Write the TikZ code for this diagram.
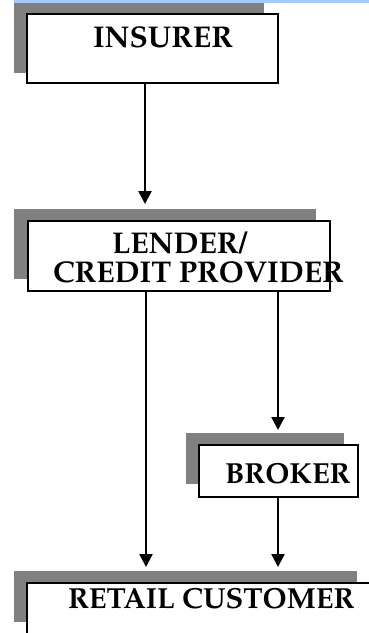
\documentclass[tikz,border=0pt]{standalone}
\usepackage[T1]{fontenc}
\renewcommand{\rmdefault}{ppl}
\usetikzlibrary{arrows.meta}
\definecolor{shade}{HTML}{808080}
\definecolor{rule}{HTML}{99CCFF}
\tikzset{
  shadowbox/.style={rectangle, fill=shade, draw=none, inner sep=0pt, outer sep=0pt, anchor=north west},
  whitebox/.style={rectangle, fill=white, draw=black, line width=2.2pt, inner sep=0pt, outer sep=0pt, anchor=north west},
  caption/.style={inner sep=0pt, outer sep=0pt, anchor=base west, font=\fontsize{#1}{#1}\selectfont\bfseries},
  caption/.default=29,
  arr/.style={line width=2.4pt, -{Triangle[width=13pt,length=13pt]}},
}
\begin{document}
\begin{tikzpicture}[x=1pt, y=-1pt]
\useasboundingbox (0,0) rectangle (369,633);
\clip (0,0) rectangle (369,633);
% rule along the top edge
\fill[rule] (14,0) rectangle (369,2.5);

% insurer
\node[shadowbox, minimum width=250pt, minimum height=70pt] (insurer-sh) at (14,3) {};
\node[whitebox, minimum width=251pt, minimum height=69pt] (insurer) at (27,14) {};
\node[caption=30] (insurer-text) at (93,47) {INSURER};

% lender / credit provider
\node[shadowbox, minimum width=302pt, minimum height=70pt] (lender-sh) at (14,209) {};
\node[whitebox, minimum width=302pt, minimum height=70pt] (lender) at (28,221) {};
\node[caption=30] (lender-text1) at (112,253) {LENDER/};
\node[caption=30] (lender-text2) at (53,282) {CREDIT PROVIDER};

% broker
\node[shadowbox, minimum width=158pt, minimum height=51pt] (broker-sh) at (186,433) {};
\node[whitebox, minimum width=159pt, minimum height=52pt] (broker) at (199,445) {};
\node[caption=29] (broker-text) at (225,483) {BROKER};

% retail customer
\node[shadowbox, minimum width=343pt, minimum height=51pt] (retail-sh) at (14,571) {};
\node[whitebox, minimum width=370pt, minimum height=80pt] (retail) at (27,583) {};
\node[caption=29] (retail-text) at (68,608) {RETAIL CUSTOMER};

% arrow columns
\coordinate (colA) at (145,0);
\coordinate (colB) at (146,0);
\coordinate (colC) at (278,0);

\draw[arr, shorten >=5pt] (insurer.south -| colA) -- (lender-sh.north -| colA);
\draw[arr, shorten >=3pt] (lender.south -| colC) -- (broker-sh.north -| colC);
\draw[arr, shorten >=4pt] (lender.south -| colB) -- (retail-sh.north -| colB);
\draw[arr, shorten >=4pt] (broker.south -| colC) -- (retail-sh.north -| colC);
\end{tikzpicture}
\end{document}
